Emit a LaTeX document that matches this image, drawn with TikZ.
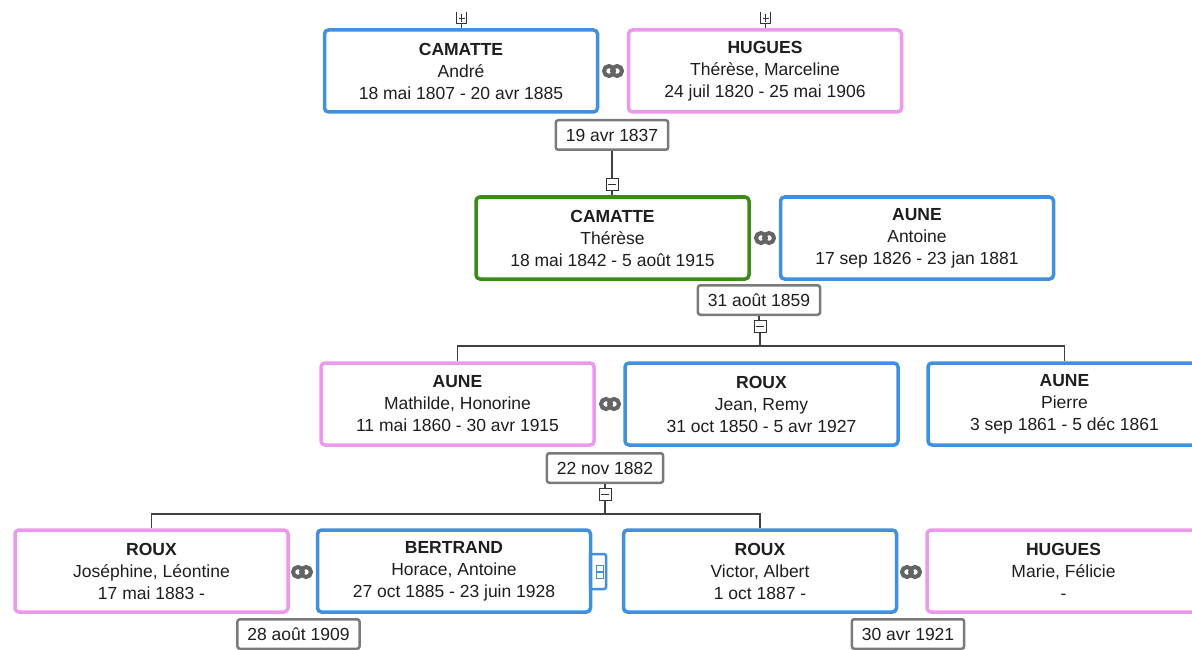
\documentclass[tikz,border=0pt]{standalone}
\usepackage{fontspec}
\setmainfont{Liberation Sans}
\definecolor{mblue}{RGB}{64,144,222}
\definecolor{mpink}{RGB}{236,152,236}
\definecolor{mgreen}{RGB}{58,140,22}
\definecolor{mgray}{RGB}{122,122,122}
\definecolor{mtext}{RGB}{30,30,30}
\definecolor{mring}{RGB}{100,100,100}
\newcommand\weddingring[2]{\draw[mring,line width=4pt] (#1-4,#2) circle (5) (#1+4,#2) circle (5);}
\begin{document}
\begin{tikzpicture}[x=1pt,y=-1pt,
  person/.style={draw, line width=3.5pt, rounded corners=4pt, fill=white,
    minimum width=273pt, minimum height=82pt, align=center, inner sep=0pt,
    font=\fontsize{17.5}{22}\selectfont, text=mtext},
  male/.style={person, draw=mblue},
  female/.style={person, draw=mpink},
  rootp/.style={person, draw=mgreen},
  datebox/.style={draw=mgray, line width=2.5pt, rounded corners=2.5pt, fill=white,
    minimum height=29.5pt, inner xsep=10pt, inner ysep=0pt,
    font=\fontsize{17.5}{19}\selectfont, text=mtext},
  minusbox/.style={draw=black!80, line width=0.8pt, minimum size=12pt, inner sep=0pt, fill=white,
    path picture={\draw[black!80,line width=0.8pt] ([xshift=2pt]path picture bounding box.west) -- ([xshift=-2pt]path picture bounding box.east);}},
  plusbox/.style={minimum width=9pt, minimum height=11pt, inner sep=0pt,
    path picture={\draw[black!80,line width=0.8pt] ([xshift=1.5pt]path picture bounding box.west) -- ([xshift=-1.5pt]path picture bounding box.east)
      ([yshift=-2pt]path picture bounding box.north) -- ([yshift=1.5pt]path picture bounding box.south);}},
  link/.style={draw=black!75, line width=1.2pt},
]
\clip (0,0) rectangle (1192,650);
\fill[white] (0,0) rectangle (1192,650);

% generation 1
\node[male]   (p1) at (461,71)   {\textbf{CAMATTE}\\André\\18 mai 1807 - 20 avr 1885};
\node[female] (p2) at (765,71)   {\textbf{HUGUES}\\Thérèse, Marceline\\24 juil 1820 - 25 mai 1906};
\node[plusbox] (pl1) at (461.5,18) {};
\node[plusbox] (pl2) at (765.5,18) {};
\draw[black!80,line width=0.8pt] (pl1.north west) |- (pl1.south east) -- (pl1.north east);
\draw[black!80,line width=0.8pt] (pl2.north west) |- (pl2.south east) -- (pl2.north east);
\draw[link] (pl1.south) -- (pl1.south |- p1.north);
\draw[link] (pl2.south) -- (pl2.south |- p2.north);
\weddingring{613}{71}
\node[datebox] (d1) at (612,135) {19 avr 1837};
\node[minusbox] (m1) at (612,184) {};
\draw[link] (d1.south) -- (m1.north);

% generation 2
\node[rootp] (p3) at (612.5,238) {\textbf{CAMATTE}\\Thérèse\\18 mai 1842 - 5 août 1915};
\node[male]  (p4) at (917,238)   {\textbf{AUNE}\\Antoine\\17 sep 1826 - 23 jan 1881};
\draw[link] (m1.south) -- (m1.south |- p3.north);
\weddingring{765}{238}
\node[datebox] (d2) at (759,300) {31 août 1859};
\node[minusbox] (m2) at (760,326.5) {};
\draw[link] (d2.south) -- (d2.south |- m2.north);
\coordinate (bus3) at (760,346);
\draw[link] (m2.south) -- (bus3);

% generation 3
\node[female] (p5) at (457.5,404)  {\textbf{AUNE}\\Mathilde, Honorine\\11 mai 1860 - 30 avr 1915};
\node[male]   (p6) at (761.5,404)  {\textbf{ROUX}\\Jean, Remy\\31 oct 1850 - 5 avr 1927};
\node[male]   (p7) at (1064.5,404) {\textbf{AUNE}\\Pierre\\3 sep 1861 - 5 déc 1861};
\draw[link] (p5.north) |- (bus3) -| (p7.north);
\weddingring{610}{404}
\node[datebox] (d3) at (605,468) {22 nov 1882};
\node[minusbox] (m3) at (605,494) {};
\draw[link] (d3.south) -- (m3.north);
\coordinate (bus4) at (605,514);
\draw[link] (m3.south) -- (bus4);

% generation 4
\node[female] (p8)  at (151.5,571)  {\textbf{ROUX}\\Joséphine, Léontine\\17 mai 1883 -};
\node[male]   (p9)  at (454,571)    {\textbf{BERTRAND}\\Horace, Antoine\\27 oct 1885 - 23 juin 1928};
\node[male]   (p10) at (760,571)    {\textbf{ROUX}\\Victor, Albert\\1 oct 1887 -};
\node[female] (p11) at (1063.5,571) {\textbf{HUGUES}\\Marie, Félicie\\-};
\draw[link] (p8.north) |- (bus4) -| (p10.north);
\weddingring{302}{572}
\weddingring{911}{572}
\node[draw=mblue, line width=2.5pt, rounded corners=2pt, minimum width=16pt, minimum height=35pt, inner sep=0pt] (e9) at (598,571.5) {};
\node[draw=mblue, line width=1.5pt, minimum width=7pt, minimum height=13pt, inner sep=0pt, fill=white,
  path picture={\draw[mblue,line width=1.5pt] (path picture bounding box.west) -- (path picture bounding box.east);}] (e9i) at (600,572) {};
\node[datebox] (d4) at (298.5,634) {28 août 1909};
\node[datebox] (d5) at (908,634)   {30 avr 1921};
\end{tikzpicture}
\end{document}
